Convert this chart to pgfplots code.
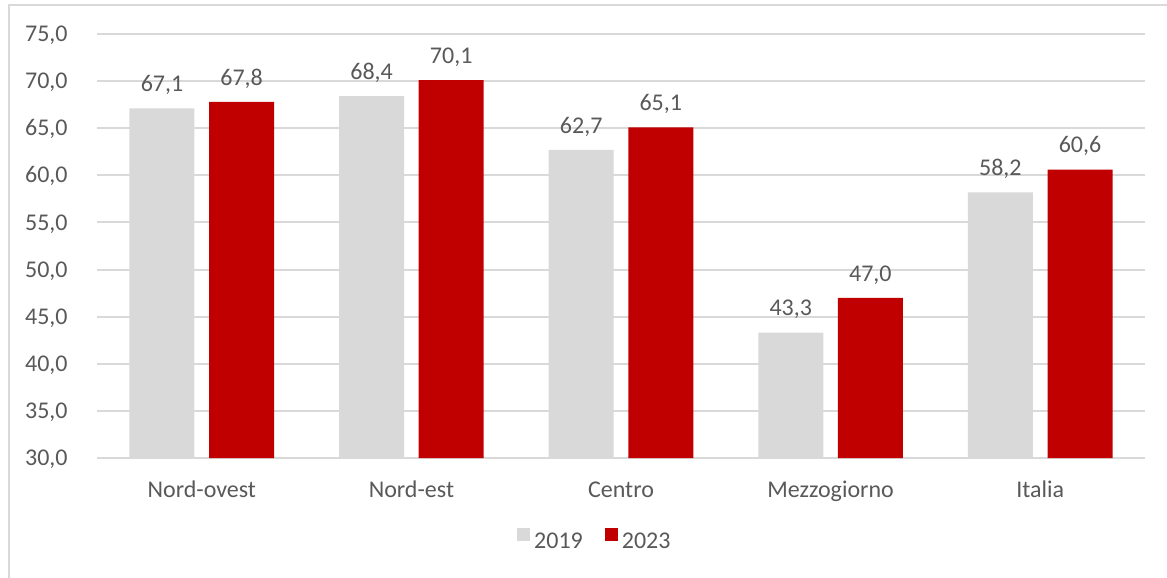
\documentclass[border=0pt]{standalone}
\usepackage{fontspec}
\setmainfont{Carlito}
\usepackage{pgfplots}
\pgfplotsset{compat=1.18}
\definecolor{cgrey}{HTML}{D9D9D9}
\definecolor{cred}{HTML}{C00000}
\definecolor{ctext}{HTML}{595959}
\definecolor{cframe}{HTML}{D9D9D9}
\newcommand{\lblfont}{\fontsize{12}{14}\selectfont}
\begin{document}
\begin{tikzpicture}
\useasboundingbox (0,0) rectangle (583.5pt,289pt);
\draw[cframe, line width=0.8pt] (4.5pt,0) -- (4.5pt,286.5pt) -- (583.5pt,286.5pt);
\begin{axis}[
  at={(48.5pt,60pt)}, anchor=south west,
  scale only axis, width=524pt, height=212pt,
  xmin=-0.5, xmax=4.5, ymin=30, ymax=75,
  ytick={30,35,40,45,50,55,60,65,70,75},
  xtick={0,1,2,3,4},
  xticklabels={Nord-ovest,Nord-est,Centro,Mezzogiorno,Italia},
  axis line style={draw=none},
  major tick length=0pt,
  ymajorgrids,
  grid style={cgrey, line width=1pt},
  /pgf/number format/.cd, fixed, fixed zerofill, precision=1, use comma, assume math mode=true,
  /pgfplots/.cd,
  yticklabel style={font=\lblfont, text=ctext, inner sep=0pt, anchor=base east, xshift=-14.5pt, yshift=-3.8pt},
  xticklabel style={font=\lblfont, text=ctext, inner sep=0pt, anchor=base, yshift=-19.5pt},
  legend style={at={(0.476,-0.198)}, anchor=center, draw=none, fill=none,
    font=\lblfont, text=ctext, legend columns=2,
    /tikz/every even column/.append style={column sep=9pt}},
]
\addplot[ybar, bar width=0.31, bar shift=-0.19, fill=cgrey, draw=none,
  nodes near coords,
  every node near coord/.style={font=\lblfont, text=ctext, inner sep=0pt, anchor=base, xshift=-19.9pt, yshift=8.4pt,
    /pgf/number format/.cd, fixed, fixed zerofill, precision=1, use comma, assume math mode=true},
  legend image code/.code={\fill[cgrey] (0pt,0.4pt) rectangle (6.5pt,6.9pt);}]
  coordinates {(0,67.1) (1,68.4) (2,62.7) (3,43.3) (4,58.2)};
\addlegendentry{2019}
\addplot[ybar, bar width=0.31, bar shift=0.19, fill=cred, draw=none,
  nodes near coords,
  every node near coord/.style={font=\lblfont, text=ctext, inner sep=0pt, anchor=base, xshift=19.9pt, yshift=8.4pt,
    /pgf/number format/.cd, fixed, fixed zerofill, precision=1, use comma, assume math mode=true},
  legend image code/.code={\fill[cred] (0pt,0.4pt) rectangle (6.5pt,6.9pt);}]
  coordinates {(0,67.8) (1,70.1) (2,65.1) (3,47.0) (4,60.6)};
\addlegendentry{2023}
\end{axis}
\end{tikzpicture}
\end{document}
